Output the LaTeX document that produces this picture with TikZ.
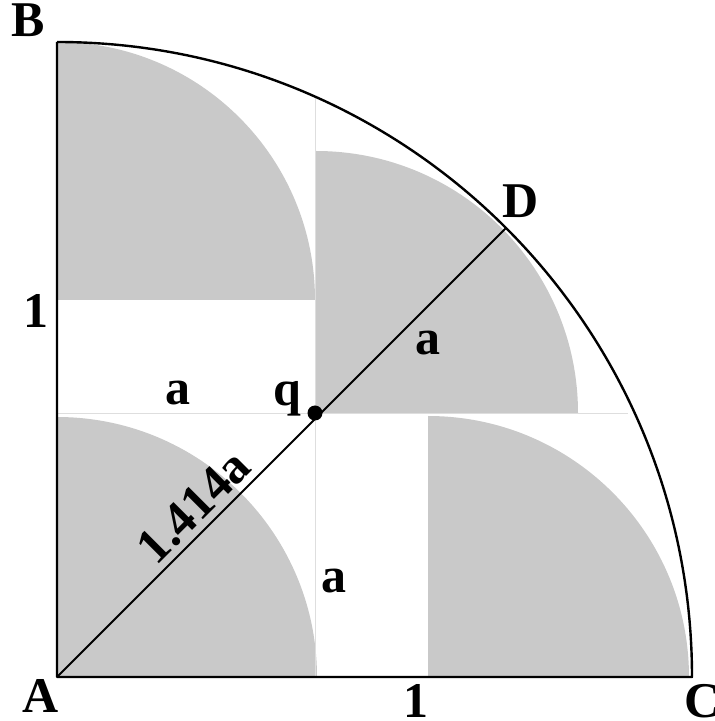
\documentclass[tikz,border=0pt]{standalone}
\usepackage{fontspec}
\setmainfont{Liberation Serif}
\usetikzlibrary{calc}
\begin{document}
\begin{tikzpicture}[x=1pt,y=1pt,
  quart/.style={fill=black!21, draw=none},
  faint/.style={draw=black!13, line width=0.9pt},
  edge/.style={draw=black, line width=2.4pt},
  lab/.style={font=\fontsize{50}{60}\selectfont\bfseries, inner sep=0pt, anchor=base}]
\useasboundingbox (0,0) rectangle (715,721);
% gray quarter discs
\fill[quart] (57,44) -- (317,44) arc[start angle=0,end angle=90,radius=260] -- cycle;
\fill[quart] (57,421) -- (315,421) arc[start angle=0,end angle=90,radius=258] -- cycle;
\fill[quart] (316,308) -- (578,308) arc[start angle=0,end angle=90,radius=262] -- cycle;
\fill[quart] (428,44) -- (689,44) arc[start angle=0,end angle=90,radius=261] -- cycle;
% faint guide lines
\coordinate (v1) at (315,44);
\coordinate (v2) at (315,623);
\coordinate (h1) at (57,308);
\coordinate (h2) at (628,308);
\draw[faint] (v1) -- (v2);
\draw[faint] (h1) -- (h2);
% frame
\coordinate (A) at (57,44);
\coordinate (B) at (57,679);
\coordinate (C) at (692,44);
\coordinate (D) at ($(57,44)+(45:635)$);
\coordinate (q) at (315,308);
\draw[edge, line join=round] (B) -- (A) -- (C) arc[start angle=0,end angle=90,radius=635];
\draw[black, line width=2pt] (A) -- (D);
\fill[black] (q) circle (7.5);
% labels
\node[lab] (lB) at (28,684) {B};
\node[lab] (l1l) at (36,393) {1};
\node[lab] (la1) at (178,316) {a};
\node[lab] (lq) at (287,315) {q};
\node[lab] (lD) at (521,503) {D};
\node[lab] (la2) at (428,366) {a};
\node[lab] (la3) at (334,128) {a};
\node[lab] (lA) at (41,9) {A};
\node[lab] (l1b) at (416,4) {1};
\node[lab] (lC) at (703,4) {C};
\node[lab, rotate=45] (ld) at (205,203) {1.414a};
\end{tikzpicture}
\end{document}
